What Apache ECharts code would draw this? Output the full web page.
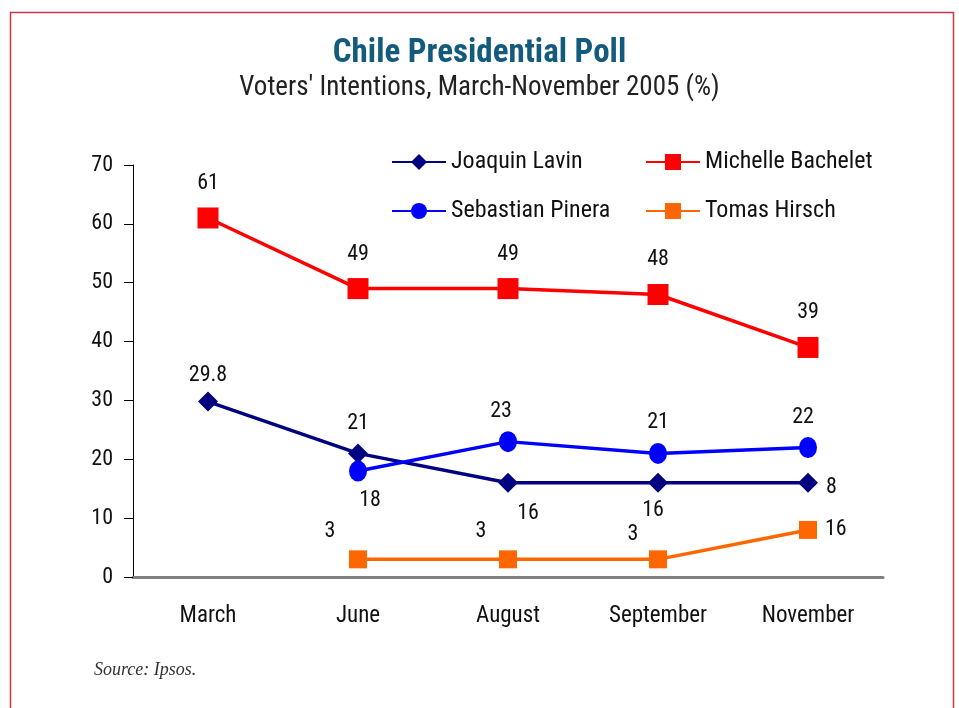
<!DOCTYPE html>
<html><head><meta charset="utf-8">
<script src="https://cdn.jsdelivr.net/npm/echarts@6/dist/echarts.min.js"></script>
<style>html,body{margin:0;padding:0;background:#fff}#c{width:959px;height:708px}</style>
</head><body><div id="c"></div>
<script>
const categories = ['March', 'June', 'August', 'September', 'November'];
const lavin = [29.8, 21, 16, 16, 16];
const bachelet = [61, 49, 49, 48, 39];
const pinera = [null, 18, 23, 21, 22];
const hirsch = [null, 3, 3, 3, 8];
// label texts as printed in the source chart
const lavinLabels = ['29.8', '21', '16', '16', '8'];
const hirschLabels = ['', '3', '3', '3', '16'];
const yTicks = [0, 10, 20, 30, 40, 50, 60, 70];

const FONT = '"Roboto Condensed", "DejaVu Sans Condensed", sans-serif';
const lblBase = {show: true, color: '#111', fontSize: 22, fontFamily: FONT};

function withLabels(values, texts, placements) {
  return values.map((v, i) => {
    if (v === null) return null;
    const p = placements[i];
    return {value: v, label: Object.assign({}, lblBase, {position: p.pos, offset: p.off || [0, 0], distance: p.dist == null ? 8 : p.dist, formatter: texts ? texts[i] : String(v)})};
  });
}

const chart = echarts.init(document.getElementById('c'), null, {renderer: 'canvas'});
chart.setOption({
  animation: false,
  backgroundColor: '#fff',
  textStyle: {fontFamily: FONT},
  title: [{
    text: 'Chile Presidential Poll',
    left: 'center', top: 32,
    textStyle: {fontFamily: FONT, fontSize: 33, fontWeight: 'bold', color: '#125b7c'},
    subtext: "Voters' Intentions, March-November 2005 (%)",
    subtextStyle: {fontFamily: FONT, fontSize: 27, color: '#222'},
    itemGap: 5
  }],
  legend: [{
    left: 386, top: 145, orient: 'vertical', itemGap: 25,
    itemWidth: 54, itemHeight: 20,
    textStyle: {fontSize: 24, color: '#111', fontFamily: FONT},
    data: ['Joaquin Lavin', 'Sebastian Pinera']
  }, {
    left: 640, top: 145, orient: 'vertical', itemGap: 25,
    itemWidth: 54, itemHeight: 20,
    textStyle: {fontSize: 24, color: '#111', fontFamily: FONT},
    data: ['Michelle Bachelet', 'Tomas Hirsch']
  }],
  grid: {left: 133, right: 76, top: 165, bottom: 131, containLabel: false},
  xAxis: {
    type: 'category', data: categories, boundaryGap: true,
    axisLine: {lineStyle: {color: '#808080', width: 3}},
    axisTick: {show: false},
    axisLabel: {color: '#111', fontSize: 23, margin: 28, fontFamily: FONT}
  },
  yAxis: {
    type: 'value', min: yTicks[0], max: yTicks[yTicks.length - 1], interval: 10,
    axisLine: {show: true, lineStyle: {color: '#000', width: 1}},
    axisTick: {show: true, length: 9, lineStyle: {color: '#000'}},
    splitLine: {show: false},
    axisLabel: {color: '#111', fontSize: 22, margin: 20, fontFamily: FONT}
  },
  series: [{
    name: 'Joaquin Lavin', type: 'line', color: '#000080',
    symbol: 'diamond', symbolSize: 20,
    lineStyle: {width: 3.5, color: '#000080'}, itemStyle: {color: '#000080'},
    z: 3,
    data: withLabels(lavin, lavinLabels, [
      {pos: 'top', dist: 5}, {pos: 'top', dist: 9}, {pos: 'bottom', off: [20, 2]},
      {pos: 'bottom', off: [-5, -1]}, {pos: 'right', dist: 6, off: [2, 5]}
    ])
  }, {
    name: 'Michelle Bachelet', type: 'line', color: '#ff0000',
    symbol: 'rect', symbolSize: 21,
    lineStyle: {width: 3.5, color: '#ff0000'}, itemStyle: {color: '#ff0000'},
    data: withLabels(bachelet, null, [
      {pos: 'top', dist: 13}, {pos: 'top', dist: 13}, {pos: 'top', dist: 13},
      {pos: 'top', dist: 13}, {pos: 'top', dist: 13}
    ])
  }, {
    name: 'Sebastian Pinera', type: 'line', color: '#0000ff',
    symbol: 'circle', symbolSize: [18, 21],
    lineStyle: {width: 3.5, color: '#0000ff'}, itemStyle: {color: '#0000ff'},
    data: withLabels(pinera, null, [
      null, {pos: 'bottom', off: [12, 0]}, {pos: 'top', off: [-7, 0], dist: 9},
      {pos: 'top', dist: 9}, {pos: 'top', off: [-5, 0], dist: 9}
    ])
  }, {
    name: 'Tomas Hirsch', type: 'line', color: '#ff6600',
    symbol: 'rect', symbolSize: 18,
    lineStyle: {width: 3.5, color: '#ff6600'}, itemStyle: {color: '#ff6600'},
    data: withLabels(hirsch, hirschLabels, [
      null, {pos: 'top', off: [-28, 0]}, {pos: 'top', off: [-27, 0]},
      {pos: 'top', off: [-25, 3]}, {pos: 'right', dist: 8}
    ])
  }],
  graphic: [{
    type: 'rect', left: 8, top: 10, z: -1,
    shape: {width: 943, height: 720},
    style: {fill: 'none', stroke: '#c8384a', lineWidth: 1.5}
  }, {
    type: 'text', left: 94, top: 661,
    style: {text: 'Source: Ipsos.', fill: '#333', font: 'italic 18px "Liberation Serif", "DejaVu Serif", serif'}
  }]
});
</script></body></html>
